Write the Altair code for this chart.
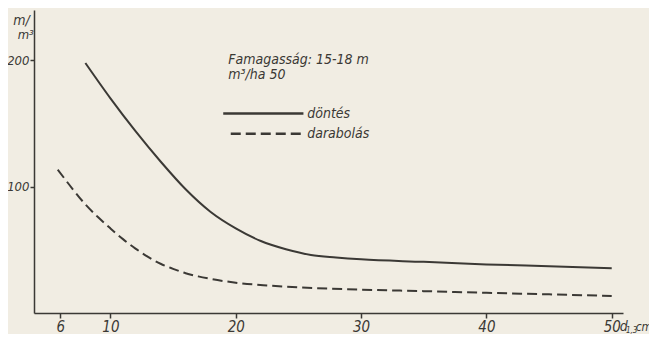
import altair as alt
import pandas as pd

# döntés (felling) curve
dontes_x = [8, 10, 12, 14, 16, 18, 20, 22, 24, 26, 28, 30, 35, 40, 45, 50]
dontes_y = [198, 170, 144, 120, 98, 80, 67, 57, 50.5, 46, 44, 42.5, 40.5, 38.5, 37, 35.5]
# darabolás (bucking) curve
darab_x = [5.8, 7, 8, 9, 10, 11, 12, 13, 14, 15, 16, 17, 18, 20, 22.5, 25, 30, 35, 40, 45, 50]
darab_y = [113.5, 98, 86, 76, 67, 58.5, 51, 44.5, 39, 35, 31.5, 29, 27, 24, 21.8, 20.3, 18.5, 17.3, 16, 14.8, 13.5]

x_ticks = [6, 10, 20, 30, 40, 50]
y_ticks = [100, 200]

FONT = "Liberation Sans Narrow, DejaVu Sans Condensed, sans-serif"
INK = "#3b3935"
BG = "#f1ede3"

df = pd.concat([
    pd.DataFrame({"d": dontes_x, "v": dontes_y, "s": "döntés"}),
    pd.DataFrame({"d": darab_x, "v": darab_y, "s": "darabolás"}),
])

xs = alt.Scale(domain=[3.9, 50.9], nice=False, zero=False)
ys = alt.Scale(domain=[0, 240], nice=False)

base = alt.Chart(df)

solid = base.transform_filter(alt.datum.s == "döntés").mark_line(
    color=INK, strokeWidth=2, interpolate="monotone"
).encode(
    x=alt.X("d:Q", scale=xs, axis=alt.Axis(
        values=x_ticks, title=None, grid=False, domainColor=INK, domainWidth=1.5,
        tickColor=INK, tickWidth=1.5, tickSize=5, labelPadding=1,
        labelFont=FONT, labelFontSize=15, labelFontStyle="italic", labelColor=INK)),
    y=alt.Y("v:Q", scale=ys, axis=alt.Axis(
        values=y_ticks, title=None, grid=False, domainColor=INK, domainWidth=1.5,
        tickColor=INK, tickWidth=1.5, tickSize=4, labelPadding=1,
        labelFont=FONT, labelFontSize=13, labelFontStyle="italic", labelColor=INK)),
)

dashed = base.transform_filter(alt.datum.s == "darabolás").mark_line(
    color=INK, strokeWidth=2, strokeDash=[10, 5], interpolate="monotone"
).encode(x=alt.X("d:Q", scale=xs), y=alt.Y("v:Q", scale=ys))

# legend / annotation
leg_lines = pd.DataFrame({
    "x1": [19.0, 19.6], "x2": [25.4, 25.2], "y": [158, 142], "dash": ["solid", "dash"]
})
leg_solid = alt.Chart(leg_lines[leg_lines.dash == "solid"]).mark_rule(
    color=INK, strokeWidth=2.5).encode(
    x=alt.X("x1:Q", scale=xs), x2="x2:Q", y=alt.Y("y:Q", scale=ys))
leg_dash = alt.Chart(leg_lines[leg_lines.dash == "dash"]).mark_rule(
    color=INK, strokeWidth=2.5, strokeDash=[10, 5]).encode(
    x=alt.X("x1:Q", scale=xs), x2="x2:Q", y=alt.Y("y:Q", scale=ys))

texts = pd.DataFrame({
    "x": [19.4, 19.4, 25.7, 25.7, 2.25, 2.6, 50.64, 51.14, 51.91],
    "y": [197.6, 185.0, 158, 142, 231.5, 220.5, -14.0, -15.8, -14.0],
    "t": ["Famagasság: 15-18 m", "m³/ha 50", "döntés", "darabolás", "m/", "m³",
          "d", "1,3", "cm"],
    "b": ["alphabetic", "alphabetic", "middle", "middle", "middle", "middle",
          "alphabetic", "alphabetic", "alphabetic"],
    "fs": [14, 14, 14, 14, 14, 13, 14, 8, 12],
})
txt_mid = alt.Chart(texts[texts.b == "middle"]).mark_text(
    font=FONT, fontStyle="italic", color=INK, align="left", baseline="middle"
).encode(x=alt.X("x:Q", scale=xs), y=alt.Y("y:Q", scale=ys), text="t:N",
         size=alt.Size("fs:Q", scale=None, legend=None))
txt_alpha = alt.Chart(texts[texts.b == "alphabetic"]).mark_text(
    font=FONT, fontStyle="italic", color=INK, align="left", baseline="alphabetic"
).encode(x=alt.X("x:Q", scale=xs), y=alt.Y("y:Q", scale=ys), text="t:N",
         size=alt.Size("fs:Q", scale=None, legend=None))

chart = alt.layer(solid, dashed, leg_solid, leg_dash, txt_mid, txt_alpha).properties(
    width=589, height=303,
    autosize=alt.AutoSizeParams(type="none"),
    padding={"left": 26, "top": 2, "right": 26, "bottom": 21},
    background=BG,
).configure_view(stroke=None)

chart.save("out.html", embed_options={"renderer": "svg", "actions": False})
